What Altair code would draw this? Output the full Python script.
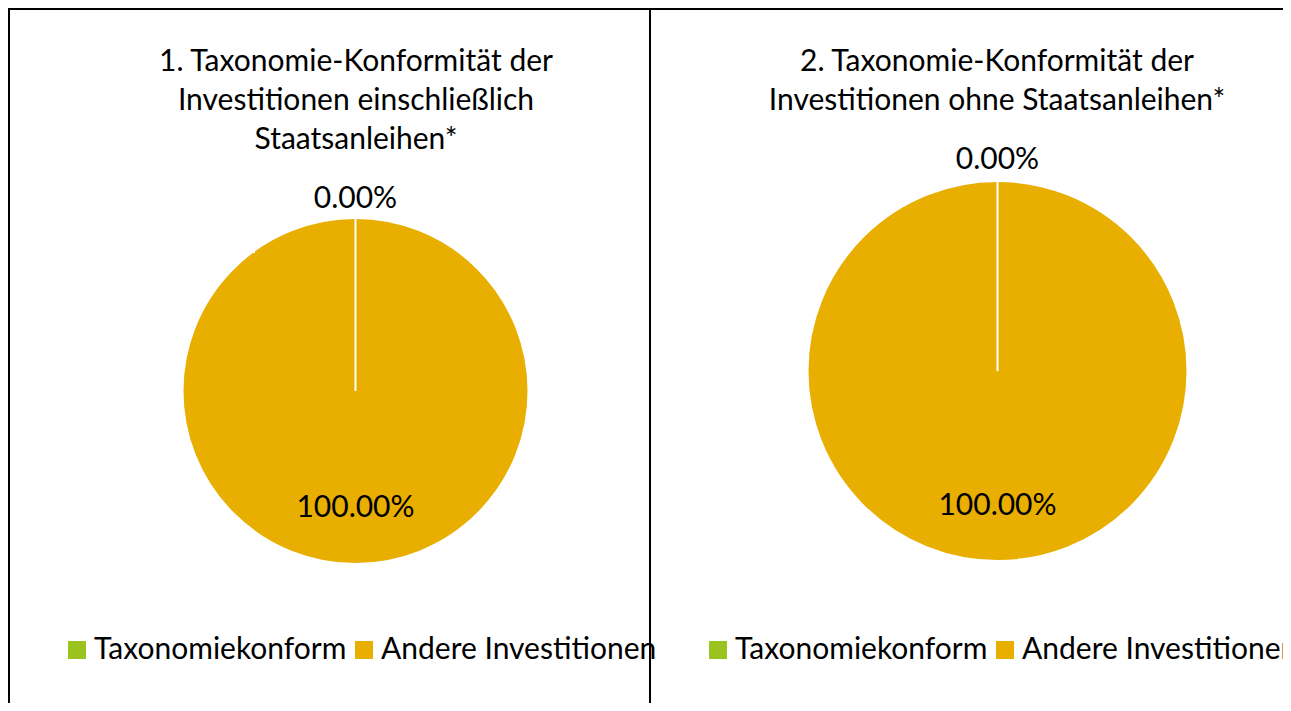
import altair as alt
import pandas as pd

categories = ["Taxonomiekonform", "Andere Investitionen"]
values_1 = [0.0, 1.0]
values_2 = [0.0, 1.0]
colors = ["#9BC31F", "#E8AE00"]
title_1 = "1. Taxonomie-Konformität der\nInvestitionen einschließlich\nStaatsanleihen*"
title_2 = "2. Taxonomie-Konformität der\nInvestitionen ohne Staatsanleihen*"

FONT = "Lato"
FS = 30

def frame(vals):
    return pd.DataFrame({"cat": categories, "val": vals, "ord": list(range(len(categories)))})

df1 = frame(values_1)
df2 = frame(values_2)

def pie(df, cx, cy, r, r_out, r_in, lx, ly):
    base = alt.Chart(df).encode(
        theta=alt.Theta("val:Q", stack=True),
        order=alt.Order("ord:Q"),
    )
    arc = base.mark_arc(radius=r, strokeWidth=0).encode(
        x=alt.value(cx), y=alt.value(cy),
        color=alt.Color("cat:N", scale=alt.Scale(domain=categories, range=colors),
                        legend=alt.Legend(orient="none", legendX=lx, legendY=ly, direction="horizontal",
                                          title=None, symbolType="square", symbolSize=324,
                                          symbolStrokeWidth=0, labelFont=FONT, labelFontSize=FS,
                                          labelColor="black", labelOffset=2, columnPadding=2,
                                          padding=0, labelLimit=0)),
    )
    edges = base.mark_arc(radius=r, fillOpacity=0, stroke="white", strokeWidth=2).encode(
        x=alt.value(cx), y=alt.value(cy),
    )
    t_out = base.mark_text(radius=r_out, font=FONT, fontSize=FS, color="black").encode(
        x=alt.value(cx), y=alt.value(cy),
        text=alt.condition(alt.datum.ord == 0, alt.Text("val:Q", format=".2%"), alt.value("")),
    )
    t_in = base.mark_text(radius=r_in, font=FONT, fontSize=FS, color="black").encode(
        x=alt.value(cx), y=alt.value(cy),
        text=alt.condition(alt.datum.ord == 1, alt.Text("val:Q", format=".2%"), alt.value("")),
    )
    return [arc, edges, t_out, t_in]

def title(txt, x, y):
    return alt.Chart(pd.DataFrame({"t": [txt]})).mark_text(
        font=FONT, fontSize=FS, color="black", lineBreak="\n", lineHeight=39, baseline="middle", align="center"
    ).encode(x=alt.value(x), y=alt.value(y), text="t:N")

def rule(x1, x2, y1, y2):
    return alt.Chart(pd.DataFrame({"a": [0]})).mark_rule(color="black", strokeWidth=2).encode(
        x=alt.value(x1), x2=alt.value(x2), y=alt.value(y1), y2=alt.value(y2))

W, H = 1275, 695
layers = (pie(df1, 347.5, 383, 173, 192, 117, 54, 627)
          + pie(df2, 989.5, 363, 190, 211, 135, 695, 627)
          + [title(title_1, 348, 54), title(title_2, 989, 54),
             rule(1, 1, 0, H), rule(642, 642, 0, H), rule(0, W, 1, 1)])

chart = alt.layer(*layers).resolve_scale(color="independent", theta="independent").properties(
    width=W, height=H, autosize=alt.AutoSizeParams(type="none"), padding=0
).configure_view(stroke=None).configure(background="white")

chart.save("out.html", embed_options={"renderer": "svg", "actions": False})
